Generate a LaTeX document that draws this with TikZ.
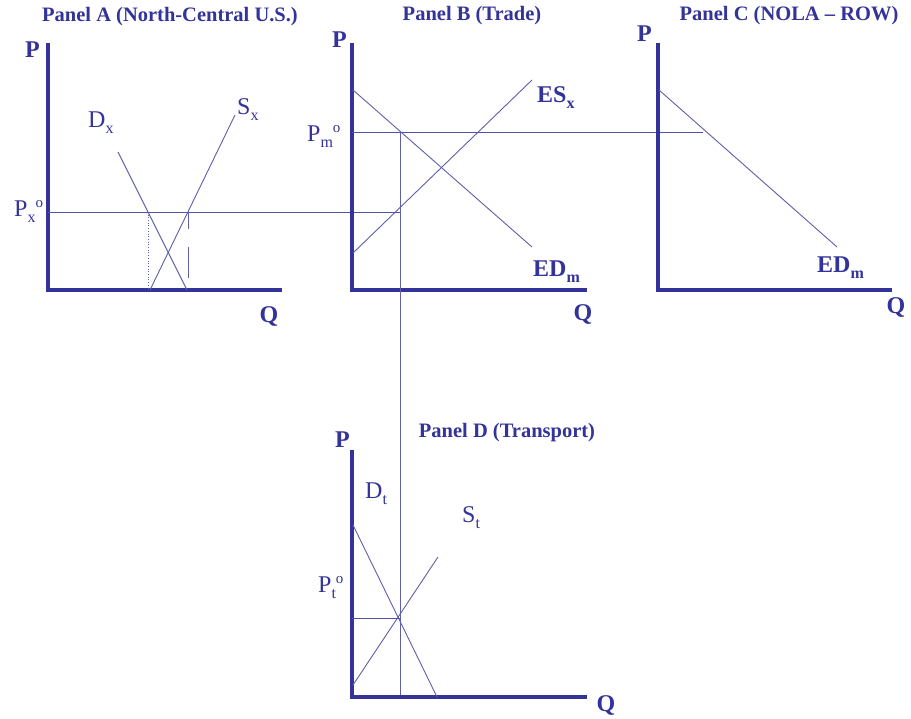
\documentclass[tikz,border=0pt]{standalone}
\usepackage{fontspec}
\setmainfont{Liberation Serif}
\usetikzlibrary{positioning}
\definecolor{axisblue}{RGB}{51,51,153}
\definecolor{curveblue}{RGB}{95,95,170}
\newcommand{\lowtxt}[1]{\raisebox{-6pt}{\fontsize{16}{16}\selectfont #1}}
\newcommand{\hightxt}[1]{\raisebox{9pt}{\fontsize{15}{15}\selectfont #1}}

\begin{document}
\begin{tikzpicture}[x=1pt, y=-1pt,
    axis/.style={line width=3.8pt, draw=axisblue, line join=miter},
    curve/.style={line width=0.9pt, draw=curveblue},
    price/.style={line width=0.9pt, draw=axisblue!85},
    guide/.style={line width=0.7pt, draw=curveblue},
    paneltitle/.style={font=\bfseries\fontsize{20.5}{22}\selectfont, text=axisblue, inner sep=0pt},
    axlabel/.style={font=\bfseries\fontsize{24}{26}\selectfont, text=axisblue, inner sep=0pt, anchor=base west},
    lbl/.style={font=\fontsize{24}{26}\selectfont, text=axisblue, inner sep=0pt, anchor=base west}
]
\fill[white] (0,0) rectangle (911,719);
\useasboundingbox (0,0) rectangle (911,719);

% panel titles
\node[paneltitle] (titleA) at (170,17) {Panel A (North-Central U.S.)};
\node[paneltitle] (titleB) at (472,16) {Panel B (Trade)};
\node[paneltitle] (titleC) at (789,16) {Panel C (NOLA -- ROW)};
\node[paneltitle] (titleD) at (507,433) {Panel D (Transport)};

% Panel A: North-Central U.S.
\coordinate (aTop) at (48,43);
\coordinate (aO) at (48,290);
\coordinate (aEnd) at (282,290);
\draw[axis] (aTop) -- (aO) -- (aEnd);
\node[axlabel] (aP) at (25,58) {P};
\node[axlabel, anchor=center] (aQ) at (269,317) {Q};

\coordinate (dxTop) at (118,152);
\coordinate (dxBot) at (187,290);
\coordinate (sxBot) at (150,290);
\coordinate (sxTop) at (235,115);
\draw[curve] (dxTop) -- (dxBot);
\draw[curve] (sxBot) -- (sxTop);
\node[lbl] (dxLab) at (88,128) {D\lowtxt{x}};
\node[lbl] (sxLab) at (237,115) {S\lowtxt{x}};

\coordinate (pxLeft) at (48,212);
\coordinate (pxRight) at (400,212);
\draw[price] (pxLeft) -- (pxRight);
\node[lbl] (pxLab) at (14,217) {P\lowtxt{x}\hightxt{o}};

\coordinate (qdTop) at (148,212);
\coordinate (qdBot) at (148,290);
\coordinate (qsTop) at (188,212);
\coordinate (qsBot) at (188,278);
\draw[guide, dotted] (qdTop) -- (qdBot);
\draw[guide, dash pattern=on 17pt off 18pt on 40pt] (qsTop) -- (qsBot);

% Panel B: trade
\coordinate (bTop) at (352,43);
\coordinate (bO) at (352,290);
\coordinate (bEnd) at (587,290);
\draw[axis] (bTop) -- (bO) -- (bEnd);
\node[axlabel] (bP) at (332,48) {P};
\node[axlabel, anchor=center] (bQ) at (583,315) {Q};

\coordinate (edTopB) at (353,90);
\coordinate (edBotB) at (532,247);
\coordinate (esBot) at (353,253);
\coordinate (esTop) at (532,80);
\draw[curve] (edTopB) -- (edBotB);
\draw[curve] (esBot) -- (esTop);
\node[lbl, font=\bfseries\fontsize{24}{26}\selectfont] (esLab) at (537,103) {ES\lowtxt{x}};
\node[lbl, font=\bfseries\fontsize{24}{26}\selectfont] (edLabB) at (533,277) {ED\lowtxt{m}};

\coordinate (pmLeft) at (352,132);
\coordinate (pmRight) at (703,132);
\draw[price] (pmLeft) -- (pmRight);
\node[lbl] (pmLab) at (307,142) {P\lowtxt{m}\hightxt{o}};

\coordinate (qtTop) at (400,132);
\coordinate (qtBot) at (400,697);
\draw[curve] (qtTop) -- (qtBot);

% Panel C: NOLA - ROW
\coordinate (cTop) at (658,43);
\coordinate (cO) at (658,290);
\coordinate (cEnd) at (892,290);
\draw[axis] (cTop) -- (cO) -- (cEnd);
\node[axlabel] (cP) at (637,42) {P};
\node[axlabel, anchor=center] (cQ) at (896,308) {Q};

\coordinate (edTopC) at (659,90);
\coordinate (edBotC) at (837,247);
\draw[curve] (edTopC) -- (edBotC);
\node[lbl, font=\bfseries\fontsize{24}{26}\selectfont] (edLabC) at (817,273) {ED\lowtxt{m}};

% Panel D: transport
\coordinate (dTop) at (352,450);
\coordinate (dO) at (352,697);
\coordinate (dEnd) at (587,697);
\draw[axis] (dTop) -- (dO) -- (dEnd);
\node[axlabel] (dP) at (335,447) {P};
\node[axlabel, anchor=center] (dQ) at (606,705) {Q};

\coordinate (dtTop) at (353,525);
\coordinate (dtBot) at (437,697);
\coordinate (stBot) at (353,685);
\coordinate (stTop) at (438,557);
\draw[curve] (dtTop) -- (dtBot);
\draw[curve] (stBot) -- (stTop);
\node[lbl] (dtLab) at (365,498) {D\lowtxt{t}};
\node[lbl] (stLab) at (462,522) {S\lowtxt{t}};

\coordinate (ptLeft) at (352,618);
\coordinate (ptRight) at (400,618);
\draw[price] (ptLeft) -- (ptRight);
\node[lbl] (ptLab) at (318,592) {P\lowtxt{t}\hightxt{o}};
\end{tikzpicture}
\end{document}
